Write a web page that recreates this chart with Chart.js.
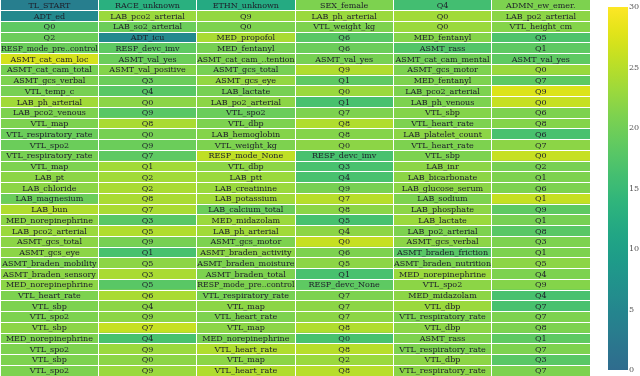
<!DOCTYPE html>
<html>
<head>
<meta charset="utf-8">
<script src="https://cdn.jsdelivr.net/npm/chart.js@4"></script>
<style>
  body { margin: 0; background: #fff; }
  #wrap { position: absolute; left: 0; top: 0; width: 590px; height: 376px; }
  #cbwrap { position: absolute; left: 598px; top: 0; width: 42px; height: 376px; }
</style>
</head>
<body>
<div id="wrap"><canvas id="grid"></canvas></div>
<div id="cbwrap"><canvas id="cbar"></canvas></div>
<script>
// token text per column (35 positions each)
const col1Tokens = ['TL_START', 'ADT_ed', 'Q0', 'Q2', 'RESP_mode_pre..control', 'ASMT_cat_cam_loc', 'ASMT_cat_cam_total', 'ASMT_gcs_verbal', 'VTL_temp_c', 'LAB_ph_arterial', 'LAB_pco2_venous', 'VTL_map', 'VTL_respiratory_rate', 'VTL_spo2', 'VTL_respiratory_rate', 'VTL_map', 'LAB_pt', 'LAB_chloride', 'LAB_magnesium', 'LAB_bun', 'MED_norepinephrine', 'LAB_pco2_arterial', 'ASMT_gcs_total', 'ASMT_gcs_eye', 'ASMT_braden_mobility', 'ASMT_braden_sensory', 'MED_norepinephrine', 'VTL_heart_rate', 'VTL_sbp', 'VTL_spo2', 'VTL_sbp', 'MED_norepinephrine', 'VTL_spo2', 'VTL_sbp', 'VTL_spo2'];
const col2Tokens = ['RACE_unknown', 'LAB_pco2_arterial', 'LAB_so2_arterial', 'ADT_icu', 'RESP_devc_imv', 'ASMT_val_yes', 'ASMT_val_positive', 'Q3', 'Q4', 'Q0', 'Q9', 'Q8', 'Q0', 'Q9', 'Q7', 'Q1', 'Q2', 'Q2', 'Q8', 'Q7', 'Q3', 'Q5', 'Q9', 'Q1', 'Q5', 'Q3', 'Q5', 'Q6', 'Q4', 'Q9', 'Q7', 'Q4', 'Q9', 'Q0', 'Q9'];
const col3Tokens = ['ETHN_unknown', 'Q9', 'Q0', 'MED_propofol', 'MED_fentanyl', 'ASMT_cat_cam_..tention', 'ASMT_gcs_total', 'ASMT_gcs_eye', 'LAB_lactate', 'LAB_po2_arterial', 'VTL_spo2', 'VTL_dbp', 'LAB_hemoglobin', 'VTL_weight_kg', 'RESP_mode_None', 'VTL_dbp', 'LAB_ptt', 'LAB_creatinine', 'LAB_potassium', 'LAB_calcium_total', 'MED_midazolam', 'LAB_ph_arterial', 'ASMT_gcs_motor', 'ASMT_braden_activity', 'ASMT_braden_moisture', 'ASMT_braden_total', 'RESP_mode_pre..control', 'VTL_respiratory_rate', 'VTL_map', 'VTL_heart_rate', 'VTL_map', 'MED_norepinephrine', 'VTL_heart_rate', 'VTL_map', 'VTL_heart_rate'];
const col4Tokens = ['SEX_female', 'LAB_ph_arterial', 'VTL_weight_kg', 'Q6', 'Q6', 'ASMT_val_yes', 'Q9', 'Q1', 'Q0', 'Q1', 'Q7', 'Q8', 'Q8', 'Q0', 'RESP_devc_imv', 'Q3', 'Q4', 'Q9', 'Q7', 'Q8', 'Q5', 'Q4', 'Q0', 'Q6', 'Q5', 'Q1', 'RESP_devc_None', 'Q7', 'Q7', 'Q7', 'Q8', 'Q0', 'Q8', 'Q2', 'Q8'];
const col5Tokens = ['Q4', 'Q0', 'Q0', 'MED_fentanyl', 'ASMT_rass', 'ASMT_cat_cam_mental', 'ASMT_gcs_motor', 'MED_fentanyl', 'LAB_pco2_arterial', 'LAB_ph_venous', 'VTL_sbp', 'VTL_heart_rate', 'LAB_platelet_count', 'VTL_heart_rate', 'VTL_sbp', 'LAB_inr', 'LAB_bicarbonate', 'LAB_glucose_serum', 'LAB_sodium', 'LAB_phosphate', 'LAB_lactate', 'LAB_po2_arterial', 'ASMT_gcs_verbal', 'ASMT_braden_friction', 'ASMT_braden_nutrition', 'MED_norepinephrine', 'VTL_spo2', 'MED_midazolam', 'VTL_dbp', 'VTL_respiratory_rate', 'VTL_dbp', 'ASMT_rass', 'VTL_respiratory_rate', 'VTL_dbp', 'VTL_respiratory_rate'];
const col6Tokens = ['ADMN_ew_emer.', 'LAB_po2_arterial', 'VTL_height_cm', 'Q5', 'Q1', 'ASMT_val_yes', 'Q0', 'Q7', 'Q9', 'Q0', 'Q6', 'Q8', 'Q6', 'Q7', 'Q0', 'Q2', 'Q1', 'Q6', 'Q1', 'Q9', 'Q1', 'Q8', 'Q3', 'Q1', 'Q5', 'Q4', 'Q9', 'Q4', 'Q7', 'Q7', 'Q8', 'Q1', 'Q7', 'Q3', 'Q7'];

// cell values (colour scale 0-30)
const col1Values = [3.5, 5.5, 18.5, 19.5, 19.5, 27, 20.5, 21, 20.5, 23.5, 21, 21, 19.5, 19.5, 20.5, 21, 22, 22, 19.5, 24.5, 22, 23, 22, 22, 21, 22, 22, 21, 21, 21, 22, 21, 21, 21, 21];
const col2Values = [13, 23, 19.5, 5.5, 18.5, 19.5, 21.5, 19.5, 18, 22, 18, 24, 20.5, 19.5, 18.5, 23.5, 23.5, 24, 24, 24, 18, 24.5, 20.5, 16.5, 22, 24, 18, 24, 22, 22, 26, 16.5, 23, 22, 23];
const col3Values = [12, 22.5, 21, 24, 20.5, 21, 20.5, 22.5, 20.5, 22, 19.5, 21, 21.5, 21, 25.5, 22, 23, 23, 23.5, 19.5, 23, 23.5, 21, 22, 21, 21, 21, 20.5, 22, 21, 22, 20.5, 24.5, 22, 24.5];
const col4Values = [21, 23, 21, 18, 19.5, 20.5, 24.5, 18.5, 23, 16.5, 21, 24.5, 21.5, 22, 16.5, 16.5, 16.5, 20.5, 25, 22, 16.5, 22, 26, 21, 22, 16.5, 18.5, 21, 22, 22, 24.5, 16.5, 25, 23, 25];
const col5Values = [16, 23.5, 23, 21.5, 17.5, 20, 21, 21, 21, 21, 21.5, 21, 22, 21, 21, 22, 22, 22, 21, 22, 23, 21, 22, 18, 21, 23, 22, 22, 23, 21, 22, 21, 21, 22, 22];
const col6Values = [21, 22, 21.5, 17, 18.5, 18.5, 23, 18.5, 27.5, 26, 21, 21.5, 16.5, 22, 26, 20.5, 21, 21, 26, 18.5, 20.5, 18, 21, 21, 22, 21, 21.5, 16.5, 16.5, 21, 21, 18.5, 21, 18, 21];

const colorTicks = [0, 5, 10, 15, 20, 25, 30];

const allTokens = [col1Tokens, col2Tokens, col3Tokens, col4Tokens, col5Tokens, col6Tokens];
const allValues = [col1Values, col2Values, col3Values, col4Values, col5Values, col6Values];
const rowIds = col1Tokens.map((_, i) => String(i));

// upper part of viridis, value 0 maps to the first stop
const cmap = ['#2f6c8e', '#2a788e', '#25848e', '#21918c', '#1e9c89', '#22a884', '#2fb47c',
              '#44bf70', '#5ec962', '#7ad151', '#9bd93c', '#bddf26', '#dfe318', '#fde725'];

function hexRgb(h) {
    return [parseInt(h.slice(1, 3), 16), parseInt(h.slice(3, 5), 16), parseInt(h.slice(5, 7), 16)];
}

function colorFor(v) {
    let t = Math.max(0, Math.min(1, v / 30)) * (cmap.length - 1);
    const i = Math.min(Math.floor(t), cmap.length - 2);
    const f = t - i;
    const a = hexRgb(cmap[i]), b = hexRgb(cmap[i + 1]);
    const c = a.map((x, k) => Math.round(x + (b[k] - x) * f));
    return 'rgb(' + c.join(',') + ')';
}

const cellText = {
    id: 'cellText',
    afterDatasetsDraw(chart) {
        const ctx = chart.ctx;
        ctx.save();
        ctx.font = '8px "DejaVu Serif"';
        ctx.fillStyle = '#1e1e2a';
        ctx.textAlign = 'center';
        ctx.textBaseline = 'middle';
        chart.data.datasets.forEach((ds, di) => {
            chart.getDatasetMeta(di).data.forEach((el, i) => {
                const cx = (el.x + el.base) / 2;
                ctx.fillText(allTokens[di][i], cx, el.y + 0.5, Math.abs(el.x - el.base) - 1);
            });
        });
        ctx.restore();
    }
};

new Chart(document.getElementById('grid'), {
    type: 'bar',
    data: {
        labels: rowIds,
        datasets: allValues.map((vals, c) => ({
            data: vals.map(() => [c, c + 1]),
            backgroundColor: vals.map(colorFor),
            borderWidth: 0,
            barPercentage: 1,
            categoryPercentage: 1,
            grouped: false
        }))
    },
    options: {
        indexAxis: 'y',
        responsive: true,
        maintainAspectRatio: false,
        animation: false,
        layout: { padding: 0 },
        plugins: { legend: { display: false }, tooltip: { enabled: false } },
        scales: {
            x: {
                type: 'linear', min: 0, max: 6,
                ticks: { display: false, stepSize: 1 },
                grid: { color: '#ffffff', lineWidth: 1, z: 1, drawTicks: false },
                border: { display: false }
            },
            y: {
                ticks: { display: false },
                grid: { color: '#ffffff', lineWidth: 1, z: 1, offset: true, drawTicks: false },
                border: { display: false }
            }
        }
    },
    plugins: [cellText]
});

// colour bar
new Chart(document.getElementById('cbar'), {
    type: 'bar',
    data: {
        labels: ['cb'],
        datasets: [{
            data: [[0, 30]],
            barPercentage: 1,
            categoryPercentage: 1,
            borderWidth: 0,
            backgroundColor: (context) => {
                const area = context.chart.chartArea;
                if (!area) return '#7ad151';
                const g = context.chart.ctx.createLinearGradient(0, area.bottom, 0, area.top);
                for (let v = 0; v <= 30; v += 1) g.addColorStop(v / 30, colorFor(v));
                return g;
            }
        }]
    },
    options: {
        responsive: true,
        maintainAspectRatio: false,
        animation: false,
        layout: { padding: { left: 10, top: 7, bottom: 6, right: 0 } },
        plugins: { legend: { display: false }, tooltip: { enabled: false } },
        scales: {
            x: { display: false },
            y: {
                position: 'right',
                min: 0, max: 30,
                afterFit: (s) => { s.width = 12; },
                afterBuildTicks: (s) => { s.ticks = colorTicks.map(v => ({ value: v })); },
                ticks: { padding: 1, color: '#555', font: { family: 'DejaVu Serif', size: 8 } },
                grid: { display: false, drawTicks: false },
                border: { display: false }
            }
        }
    }
});
</script>
</body>
</html>
